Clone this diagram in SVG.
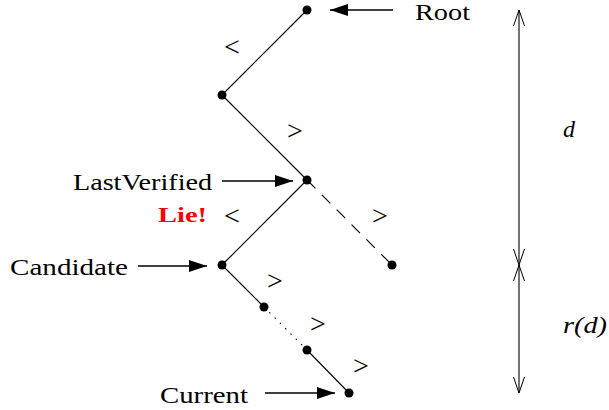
<svg xmlns="http://www.w3.org/2000/svg" width="609" height="410" viewBox="0 0 609 410">
<defs>
<marker id="fa" viewBox="0 0 18 12" refX="18" refY="6" markerWidth="18" markerHeight="12" markerUnits="userSpaceOnUse" orient="auto">
<path d="M0,0 L18,6 L0,12 Z" fill="#000"/>
</marker>
<marker id="oa" viewBox="0 0 16 12" refX="16" refY="6" markerWidth="16" markerHeight="12" markerUnits="userSpaceOnUse" orient="auto">
<path d="M0,0.5 L16,6 L0,11.5" fill="none" stroke="#000" stroke-width="1"/>
</marker>
</defs>
<style>
.t{font-family:'Liberation Serif','Times New Roman','DejaVu Serif',serif;font-size:24px;fill:#000}
.m{font-family:'Liberation Serif','Times New Roman','DejaVu Serif',serif;font-size:24px;font-style:italic;fill:#000}
.op{font-family:'Liberation Serif','Times New Roman','DejaVu Serif',serif;font-size:28px;fill:#000;text-anchor:middle}
.lie{font-family:'Liberation Serif','Times New Roman','DejaVu Serif',serif;font-size:22px;font-weight:bold;fill:#ff0000}
.e{stroke:#000;stroke-width:1.1;fill:none}
.p{stroke:#000;stroke-width:1.3;fill:none}
.n{fill:#000}
</style>
<g id="connectors">
<line class="e" x1="307" y1="10" x2="222" y2="95"/>
<line class="e" x1="222" y1="95" x2="307" y2="180"/>
<line class="e" x1="307" y1="180" x2="222" y2="265"/>
<line class="e" x1="307" y1="180" x2="392" y2="265" stroke-dasharray="12,9"/>
<line class="e" x1="222" y1="265" x2="264" y2="307"/>
<line class="e" x1="264" y1="307" x2="307" y2="350" stroke-dasharray="1.5,6"/>
<line class="e" x1="307" y1="350" x2="349" y2="393"/>
<line class="p" x1="393" y1="10" x2="330" y2="10" marker-end="url(#fa)"/>
<line class="p" x1="222" y1="181" x2="293" y2="181" marker-end="url(#fa)"/>
<line class="p" x1="138" y1="266" x2="207" y2="266" marker-end="url(#fa)"/>
<line class="p" x1="265" y1="393" x2="335" y2="393" marker-end="url(#fa)"/>
<line class="e" x1="519" y1="137" x2="519" y2="10" marker-end="url(#oa)"/>
<line class="e" x1="519" y1="137" x2="519" y2="265" marker-end="url(#oa)"/>
<line class="e" x1="519" y1="329" x2="519" y2="265" marker-end="url(#oa)"/>
<line class="e" x1="519" y1="329" x2="519" y2="393" marker-end="url(#oa)"/>
</g>
<g id="labels-edges">
<text class="op" x="232" y="56">&lt;</text>
<text class="op" x="295" y="140">&gt;</text>
<text class="op" x="232" y="225">&lt;</text>
<text class="op" x="380" y="225">&gt;</text>
<text class="op" x="275" y="290">&gt;</text>
<text class="op" x="318" y="333">&gt;</text>
<text class="op" x="361" y="375">&gt;</text>
</g>
<g id="node-root"><circle class="n" cx="307" cy="10" r="4.5"/><text class="t" x="415" y="20" textLength="55" lengthAdjust="spacingAndGlyphs">Root</text></g>
<g id="node-left"><circle class="n" cx="222" cy="95" r="4.5"/></g>
<g id="node-lastverified"><circle class="n" cx="307" cy="180" r="4.5"/><text class="t" x="73" y="190" textLength="139" lengthAdjust="spacingAndGlyphs">LastVerified</text><text class="lie" x="158" y="222" textLength="49" lengthAdjust="spacingAndGlyphs">Lie!</text></g>
<g id="node-right"><circle class="n" cx="392" cy="265" r="4.5"/></g>
<g id="node-candidate"><circle class="n" cx="222" cy="265" r="4.5"/><text class="t" x="10" y="275" textLength="118" lengthAdjust="spacingAndGlyphs">Candidate</text></g>
<g id="node-mid1"><circle class="n" cx="264" cy="307" r="4.5"/></g>
<g id="node-mid2"><circle class="n" cx="307" cy="350" r="4.5"/></g>
<g id="node-current"><circle class="n" cx="349" cy="393" r="4.5"/><text class="t" x="160" y="403" textLength="88" lengthAdjust="spacingAndGlyphs">Current</text></g>
<g id="dimension-labels">
<text class="m" x="563" y="137">d</text>
<text class="m" x="563" y="333" textLength="44" lengthAdjust="spacingAndGlyphs">r(d)</text>
</g>
</svg>
